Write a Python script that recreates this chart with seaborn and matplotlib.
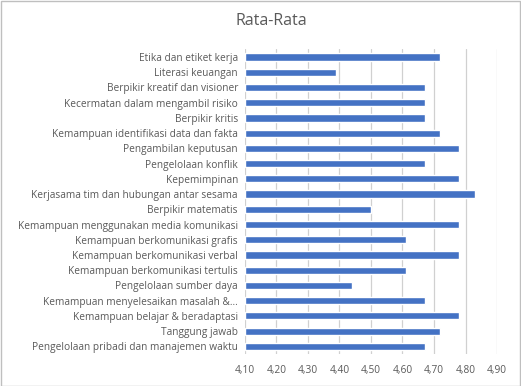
import matplotlib
matplotlib.use("Agg")
import matplotlib.pyplot as plt
import seaborn as sns
import pandas as pd
from matplotlib.patches import Rectangle

categories = [
    "Etika dan etiket kerja",
    "Literasi keuangan",
    "Berpikir kreatif dan visioner",
    "Kecermatan dalam mengambil risiko",
    "Berpikir kritis",
    "Kemampuan identifikasi data dan fakta",
    "Pengambilan keputusan",
    "Pengelolaan konflik",
    "Kepemimpinan",
    "Kerjasama tim dan hubungan antar sesama",
    "Berpikir matematis",
    "Kemampuan menggunakan media komunikasi",
    "Kemampuan berkomunikasi grafis",
    "Kemampuan berkomunikasi verbal",
    "Kemampuan berkomunikasi tertulis",
    "Pengelolaan sumber daya",
    "Kemampuan menyelesaikan masalah &...",
    "Kemampuan belajar & beradaptasi",
    "Tanggung jawab",
    "Pengelolaan pribadi dan manajemen waktu",
]
values = [4.72, 4.39, 4.67, 4.67, 4.67, 4.72, 4.78, 4.67, 4.78, 4.83,
          4.50, 4.78, 4.61, 4.78, 4.61, 4.44, 4.67, 4.78, 4.72, 4.67]
ticks = [4.10, 4.20, 4.30, 4.40, 4.50, 4.60, 4.70, 4.80, 4.90]
tick_labels = ["4,10", "4,20", "4,30", "4,40", "4,50", "4,60", "4,70", "4,80", "4,90"]
title = "Rata-Rata"

df = pd.DataFrame({"cat": categories, "val": values})

sns.set_theme(style="white")
plt.rcParams["font.family"] = ["Open Sans", "DejaVu Sans"]

fig = plt.figure(figsize=(5.21, 3.86), dpi=100)
ax = fig.add_axes([0.470, 0.083, 0.484, 0.789])

x0 = ticks[0]
df["len"] = df["val"] - x0
sns.barplot(data=df, y="cat", x="len", orient="h", color="#4472C4",
            width=0.47, left=x0, ax=ax, saturation=1)

ax.set_xlim(ticks[0], ticks[-1])
ax.set_xticks(ticks)
ax.set_xticklabels(tick_labels)
ax.set_xlabel("")
ax.set_ylabel("")
ax.grid(axis="x", color="#D0D0D0", linewidth=0.9)
ax.set_axisbelow(True)
for s in ax.spines.values():
    s.set_visible(False)
ax.tick_params(axis="both", length=0, colors="#595959")
for lab in ax.get_xticklabels() + ax.get_yticklabels():
    lab.set_color("#595959")
ax.tick_params(axis="x", pad=8, labelsize=7.3)
ax.tick_params(axis="y", pad=5, labelsize=7.3)

fig.text(0.52, 0.945, title, ha="center", va="center", fontsize=11.5, color="#595959")
fig.patches.append(Rectangle((0.001, 0.001), 0.997, 0.997, transform=fig.transFigure,
                             fill=False, edgecolor="#BFBFBF", linewidth=1))

fig.savefig("out.png", dpi=100)
